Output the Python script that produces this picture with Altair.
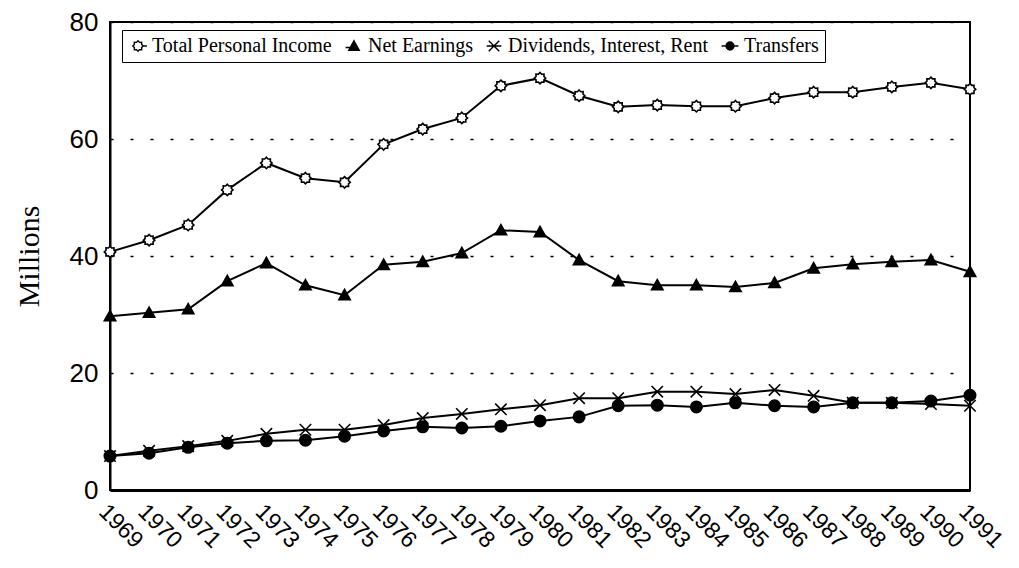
import altair as alt
import pandas as pd

years = list(range(1969, 1992))
series_names = ["Total Personal Income", "Net Earnings", "Dividends, Interest, Rent", "Transfers"]
total_income = [40.7, 42.7, 45.3, 51.3, 55.9, 53.3, 52.6, 59.1, 61.7, 63.6, 69.1, 70.4,
                67.4, 65.5, 65.8, 65.6, 65.6, 67.0, 68.0, 68.0, 68.9, 69.6, 68.5]
net_earnings = [29.7, 30.3, 30.9, 35.7, 38.8, 35.0, 33.3, 38.5, 39.0, 40.5, 44.4, 44.1,
                39.3, 35.7, 35.0, 35.0, 34.7, 35.4, 37.9, 38.6, 39.0, 39.3, 37.3]
dividends = [5.8, 6.7, 7.5, 8.4, 9.6, 10.3, 10.3, 11.1, 12.3, 13.0, 13.8, 14.5,
             15.7, 15.7, 16.8, 16.8, 16.4, 17.1, 16.1, 14.9, 14.9, 14.7, 14.4]
transfers = [5.8, 6.3, 7.3, 8.0, 8.4, 8.5, 9.2, 10.1, 10.8, 10.6, 10.9, 11.8,
             12.5, 14.4, 14.5, 14.2, 14.9, 14.4, 14.2, 14.9, 14.9, 15.2, 16.2]
y_ticks = [0, 20, 40, 60, 80]

rows = []
for name, vals in zip(series_names, [total_income, net_earnings, dividends, transfers]):
    for yr, v in zip(years, vals):
        rows.append({"year": yr, "value": v, "series": name})
df = pd.DataFrame(rows)

SERIF = "Liberation Serif"
SANS = "Liberation Sans"

star = ("M0,-1L0.287,-0.693L0.707,-0.707L0.693,-0.287L1,0L0.693,0.287L0.707,0.707"
        "L0.287,0.693L0,1L-0.287,0.693L-0.707,0.707L-0.693,0.287L-1,0L-0.693,-0.287"
        "L-0.707,-0.707L-0.287,-0.693Z")
tri = "M0,-1L1,0.8L-1,0.8Z"
xmark = "M-1,-1L1,1M-1,1L1,-1"
dot = "circle"

plot_shapes = [star, tri, xmark, dot]
legend_shapes = [star + "M1,0L1.7,0", tri + "M-1.6,0.3L-0.6,0.3", xmark + "M-1.4,0L1.4,0",
                 "M-1.6,0L1.6,0M-0.75,0A0.75,0.75,0,1,0,0.75,0A0.75,0.75,0,1,0,-0.75,0Z"]
fills = ["white", "black", "black", "black"]
strokes = ["black", "black", "black", "black"]

x_enc = alt.X("year:Q",
              scale=alt.Scale(domain=[1969, 1991], nice=False, zero=False),
              axis=alt.Axis(values=years, format="d", title=None, labelAngle=45,
                            labelAlign="left", labelBaseline="top", labelFont=SANS,
                            labelFontSize=23, labelColor="black", labelPadding=10,
                            ticks=False, grid=False, domainColor="black", domainWidth=3,
                            labelOverlap=False, labelFlush=False))
y_enc = alt.Y("value:Q",
              scale=alt.Scale(domain=[0, 80], nice=False),
              axis=alt.Axis(values=y_ticks, title="Millions", titleFont=SERIF, titleFontSize=30,
                            titleFontWeight="normal", titleColor="black", titleAngle=270,
                            titleX=-81, titleY=234, titleAlign="center", titleBaseline="middle",
                            labelFont=SANS, labelFontSize=26, labelColor="black",
                            labelPadding=12, ticks=False, domainColor="black", domainWidth=2,
                            grid=True, gridColor="black", gridDash=[3, 17], gridWidth=1.5))

base = alt.Chart(df)

lines = base.mark_line(color="black", strokeWidth=2).encode(
    x=x_enc, y=y_enc, detail="series:N")

points = base.mark_point(filled=False, stroke="black", strokeWidth=1.6, size=130, opacity=1).encode(
    x=x_enc, y=y_enc,
    shape=alt.Shape("series:N", scale=alt.Scale(domain=series_names, range=plot_shapes), legend=None),
    fill=alt.Fill("series:N", scale=alt.Scale(domain=series_names, range=fills), legend=None))

leg_props = dict(title=None, orient="none", legendX=12, legendY=8,
                 direction="horizontal", columns=4, labelFont=SERIF,
                 labelFontSize=20, labelColor="black",
                 symbolSize=110, columnPadding=10, labelOffset=4,
                 padding=6, strokeColor="black", fillColor="white",
                 labelLimit=400, symbolStrokeWidth=1.4)

# legend-only layer: empty data after filter, scales have explicit domains
legend_layer = base.transform_filter("false").mark_point(
    filled=False, strokeWidth=1.4, size=110, opacity=1).encode(
    x=x_enc, y=y_enc,
    shape=alt.Shape("series:N", scale=alt.Scale(domain=series_names, range=legend_shapes),
                    sort=series_names, legend=alt.Legend(**leg_props)),
    fill=alt.Fill("series:N", scale=alt.Scale(domain=series_names, range=fills),
                  sort=series_names, legend=alt.Legend(**leg_props)),
    stroke=alt.Stroke("series:N", scale=alt.Scale(domain=series_names, range=strokes),
                      sort=series_names, legend=alt.Legend(**leg_props)))

chart = alt.layer(lines, points, legend_layer).resolve_scale(
    shape="independent", fill="independent", stroke="independent"
).properties(
    width=860, height=468,
    autosize=alt.AutoSizeParams(type="none"),
    padding={"left": 102, "top": 14, "right": 40, "bottom": 70},
    background="white",
).configure_view(stroke="black", strokeWidth=2).configure_legend(
    labelFont=SERIF
)

chart.save("out.html", embed_options={"renderer": "svg", "actions": False})
